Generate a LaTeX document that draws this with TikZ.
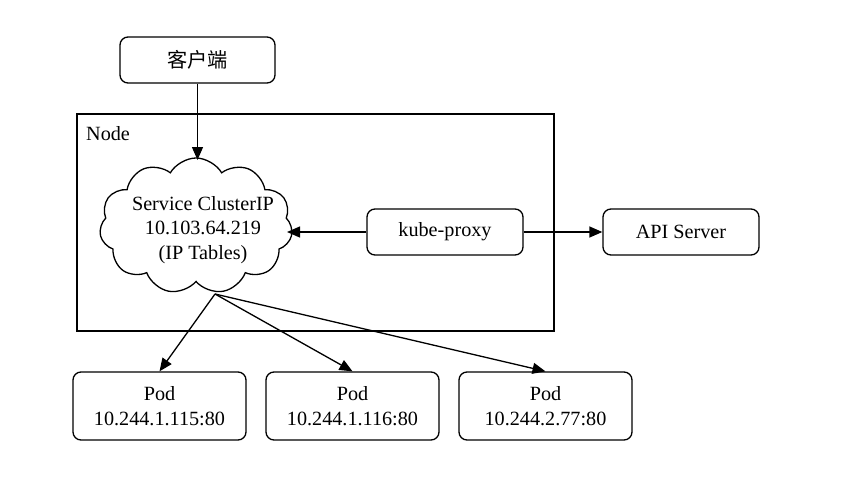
\documentclass[tikz,border=0pt]{standalone}
\usepackage{fontspec}
\setmainfont{Liberation Serif}
\newfontfamily\cjk{Noto Sans CJK SC}
\usetikzlibrary{shapes.symbols,arrows.meta}
\tikzset{
  box/.style={draw, line width=1.3pt, rounded corners=8pt, align=center, inner sep=0pt},
  conn/.style={line width=1.3pt, -{Triangle[length=13pt,width=11pt]}},
}
\begin{document}
\begin{tikzpicture}[x=1pt,y=-1pt, font=\fontsize{20.2}{24.5}\selectfont]
\useasboundingbox[fill=white] (0,0) rectangle (843,490);
\draw[line width=1.3pt] (77,114) rectangle (554,331);
\node[anchor=north west, inner sep=0pt] (nodelabel) at (86,126) {Node};
\node[box, minimum width=155pt, minimum height=46pt] (client) at (197.5,60) {\cjk 客户端};
\node[draw, line width=1.3pt, cloud, cloud puffs=11, cloud puff arc=120, aspect=1.4, minimum width=193pt, minimum height=136pt, align=center, inner sep=0pt] (cloud) at (196,226) {};
\node[align=center] (cloudtext) at (203,230) {Service ClusterIP\\10.103.64.219\\(IP Tables)};
\node[box, minimum width=156pt, minimum height=46pt] (proxy) at (445,232) {kube-proxy};
\node[box, minimum width=156pt, minimum height=46pt] (api) at (681,232) {API Server};
\node[box, minimum width=173pt, minimum height=68pt] (pod1) at (159.5,406) {Pod\\10.244.1.115:80};
\node[box, minimum width=173pt, minimum height=68pt] (pod2) at (352.5,406) {Pod\\10.244.1.116:80};
\node[box, minimum width=173pt, minimum height=68pt] (pod3) at (545.5,406) {Pod\\10.244.2.77:80};
\coordinate (src) at (215,294);
\coordinate (cin) at (197.5,160);
\coordinate (cright) at (287,232);
\draw[conn] (client.south) -- (cin);
\draw[conn] (proxy.west) -- (cright);
\draw[conn] (proxy.east) -- (api.west);
\draw[conn] (src) -- (pod1.north);
\draw[conn] (src) -- (pod2.north);
\draw[conn] (src) -- (pod3.north);
\end{tikzpicture}
\end{document}
